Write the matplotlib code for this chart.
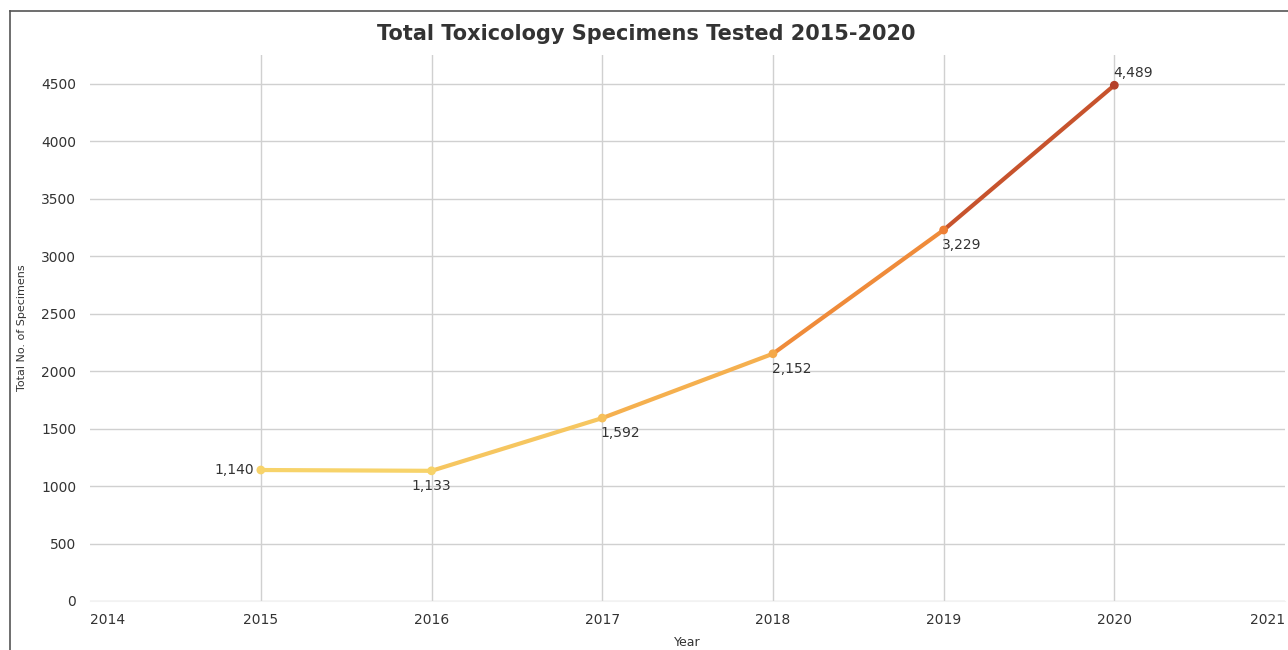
import matplotlib.pyplot as plt
import numpy as np
from matplotlib.collections import LineCollection
from matplotlib.colors import LinearSegmentedColormap
from matplotlib.lines import Line2D

years = [2015, 2016, 2017, 2018, 2019, 2020]
specimens = [1140, 1133, 1592, 2152, 3229, 4489]
labels = ['1,140', '1,133', '1,592', '2,152', '3,229', '4,489']
x_ticks = [2014, 2015, 2016, 2017, 2018, 2019, 2020, 2021]
y_ticks = [0, 500, 1000, 1500, 2000, 2500, 3000, 3500, 4000, 4500]


def main():
    fig = plt.figure(figsize=(12.88, 6.5), dpi=100)
    ax = fig.add_axes([0.07, 0.0754, 0.9277, 0.8396])

    cmap = LinearSegmentedColormap.from_list(
        'tox', ['#f7d36a', '#f4a446', '#ec7a32', '#b5402a'])
    vmin, vmax = min(specimens), max(specimens)

    pts = np.column_stack([years, specimens])
    segs = np.stack([pts[:-1], pts[1:]], axis=1)
    # colour each segment mostly by its end value (value-based colour scale)
    seg_vals = [0.3 * a + 0.7 * b for a, b in zip(specimens[:-1], specimens[1:])]
    seg_colors = [cmap((m - vmin) / (vmax - vmin)) for m in seg_vals]
    lc = LineCollection(segs, colors=seg_colors, linewidths=3, capstyle='round', zorder=3)
    ax.add_collection(lc)
    pt_colors = [cmap((v - vmin) / (vmax - vmin)) for v in specimens]
    ax.scatter(years, specimens, s=28, c=pt_colors, zorder=4)

    # data labels
    offsets = [(-5, 0, 'right', 'center'),
               (0, -6, 'center', 'top'),
               (-1, -6, 'left', 'top'),
               (-1, -6, 'left', 'top'),
               (-1, -6, 'left', 'top'),
               (-1, 4, 'left', 'bottom')]
    for x, y, t, (dx, dy, ha, va) in zip(years, specimens, labels, offsets):
        ax.annotate(t, (x, y), xytext=(dx, dy), textcoords='offset points',
                    ha=ha, va=va, fontsize=10, color='#333333')

    ax.set_xlim(2014, 2021)
    ax.set_ylim(0, 4750)
    ax.set_xticks(x_ticks)
    ax.set_yticks(y_ticks)
    ax.grid(True, color='#d0d0d0', linewidth=1)
    ax.set_axisbelow(True)
    xg = ax.get_xgridlines()
    xg[0].set_visible(False)
    xg[-1].set_visible(False)
    for s in ax.spines.values():
        s.set_visible(False)
    ax.spines['bottom'].set_visible(True)
    ax.spines['bottom'].set_color('#f2f2f2')
    ax.tick_params(length=0, labelsize=10, labelcolor='#333333')
    ax.tick_params(axis='x', pad=9)
    ax.tick_params(axis='y', pad=10)
    xl = ax.get_xticklabels()
    xl[0].set_ha('left')
    xl[-1].set_ha('right')

    ax.set_xlabel('Year', fontsize=9, color='#333333', labelpad=6)
    ax.set_ylabel('Total No. of Specimens', fontsize=8, color='#333333', labelpad=10)
    fig.text(0.502, 0.948, 'Total Toxicology Specimens Tested 2015-2020',
             ha='center', va='center', fontsize=15, fontweight='bold', color='#333333')

    # outer frame (left and top edges)
    fig.add_artist(Line2D([9.5 / 1288, 9.5 / 1288], [0, 1 - 10.5 / 650],
                          transform=fig.transFigure, color='#555555', linewidth=1.2))
    fig.add_artist(Line2D([9.5 / 1288, 1], [1 - 10.5 / 650, 1 - 10.5 / 650],
                          transform=fig.transFigure, color='#555555', linewidth=1.2))

    fig.savefig('out.png', dpi=100)
    plt.close(fig)


if __name__ == '__main__':
    main()
